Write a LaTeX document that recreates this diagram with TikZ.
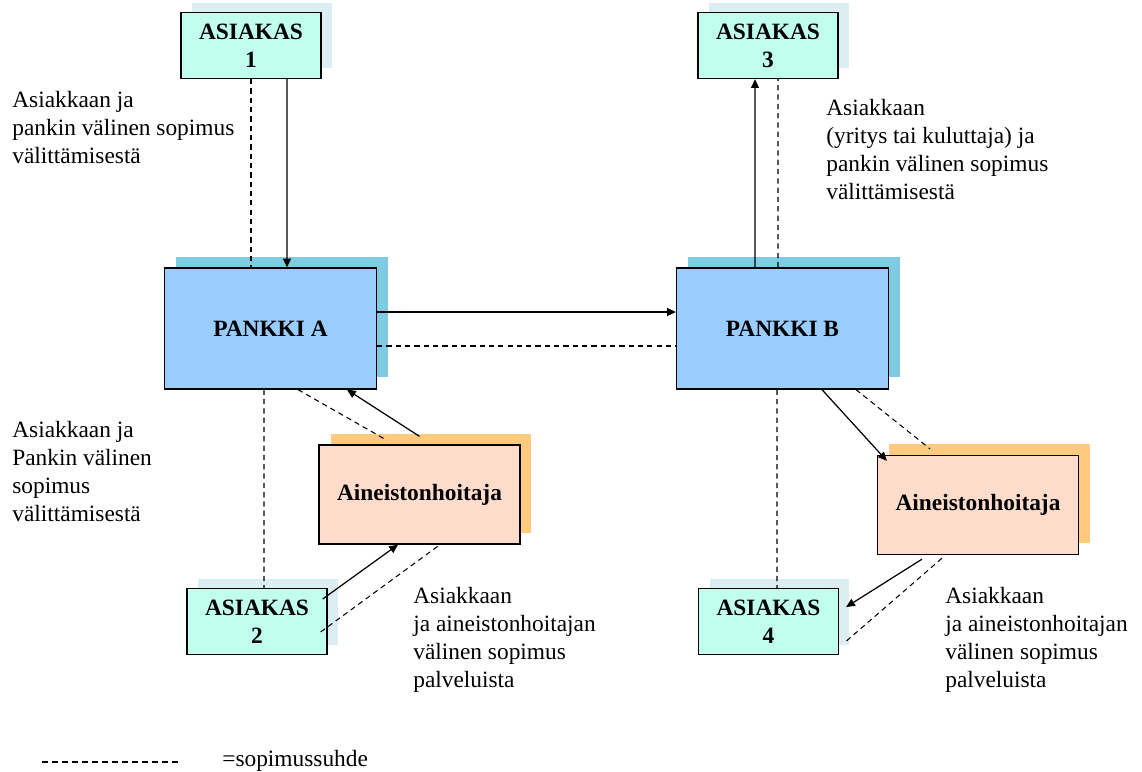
\documentclass[tikz,border=0pt]{standalone}
\usepackage{fontspec}
\setmainfont{Liberation Serif}
\usetikzlibrary{arrows.meta,shadows}

\definecolor{asiakasfill}{HTML}{C0FFEE}
\definecolor{asiakasshadow}{HTML}{DCEEF2}
\definecolor{pankkifill}{HTML}{99CCFF}
\definecolor{pankkishadow}{HTML}{7FCBE3}
\definecolor{hoitajafill}{HTML}{FDDCCB}
\definecolor{hoitajashadow}{HTML}{FFCA7D}

\newcommand\notefont{\fontsize{13.3pt}{15.9pt}\selectfont}
\newcommand\boxfont{\fontsize{13.3pt}{15.9pt}\selectfont\bfseries}

\tikzset{
  box/.style={draw=black, line width=0.75pt, align=center, font=\boxfont},
  asiakas/.style={box, fill=asiakasfill, minimum width=2.8cm, minimum height=1.32cm,
    general shadow={fill=asiakasshadow, draw=none, shadow xshift=0.22cm, shadow yshift=0.2cm}},
  pankki/.style={box, fill=pankkifill, minimum width=4.24cm, minimum height=2.42cm,
    general shadow={fill=pankkishadow, draw=none, shadow xshift=0.23cm, shadow yshift=0.23cm}},
  hoitaja/.style={box, fill=hoitajafill, minimum width=4.02cm, minimum height=1.98cm,
    general shadow={fill=hoitajashadow, draw=none, shadow xshift=0.23cm, shadow yshift=0.23cm}},
  note/.style={anchor=base west, align=left, inner sep=0pt, font=\notefont},
  flow/.style={-{Triangle[length=5pt,width=4.5pt]}, line width=0.7pt},
  deal/.style={dash pattern=on 3pt off 2.3pt, line width=0.6pt},
}

\begin{document}
\begin{tikzpicture}[x=0.02cm,y=-0.02cm]
  \useasboundingbox (0,0) rectangle (1142,771);
  % Draw boxes
  \node[asiakas] (a1) at (251,45.5)    {ASIAKAS\\1};
  \node[asiakas] (a3) at (768,45.5)    {ASIAKAS\\3};
  \node[pankki]  (pa) at (270.5,328.5) {PANKKI A};
  \node[pankki]  (pb) at (782.5,328.5) {PANKKI B};
  \node[hoitaja] (hl) at (419.5,494.5) {Aineistonhoitaja};
  \node[hoitaja] (hr) at (978,505)     {Aineistonhoitaja};
  \node[asiakas] (a2) at (257,621.5)   {ASIAKAS\\2};
  \node[asiakas] (a4) at (768.5,621.5) {ASIAKAS\\4};
  % Draw labels (base = last line)
  \node[note] (t1) at (12,163)  {Asiakkaan ja\\pankin välinen sopimus\\välittämisestä};
  \node[note] (t3) at (826,199) {Asiakkaan\\(yritys tai kuluttaja) ja\\pankin välinen sopimus\\välittämisestä};
  \node[note] (t2) at (12,521)  {Asiakkaan ja\\Pankin välinen\\sopimus\\välittämisestä};
  \node[note] (t4) at (413,687) {Asiakkaan\\ja aineistonhoitajan\\välinen sopimus\\palveluista};
  \node[note] (t5) at (945,687) {Asiakkaan\\ja aineistonhoitajan\\välinen sopimus\\palveluista};
  % Draw top connectors
  \draw[deal] (a1.south) -- (a1.south |- pa.north);
  \draw[flow] ([xshift=0.72cm]a1.south) -- ([xshift=0.33cm]pa.north);
  \draw[flow] ([xshift=-0.55cm]pb.north) -- ([xshift=-0.26cm]a3.south);
  \draw[deal] ([xshift=-0.09cm]pb.north) -- ([xshift=0.2cm]a3.south);
  % Draw bank connectors
  \draw[flow] ([yshift=0.33cm]pa.east) -- ([yshift=0.33cm]pb.west);
  \draw[deal] ([yshift=-0.35cm]pa.east) -- ([yshift=-0.35cm]pb.west);
  % Draw left bottom connectors
  \draw[deal] ([xshift=-0.13cm]pa.south) -- ([xshift=0.14cm]a2.north);
  \draw[flow] ([yshift=0.16cm]hl.north) -- ([xshift=1.53cm]pa.south);
  \draw[deal] ([xshift=0.55cm]pa.south) -- ([xshift=-0.65cm,yshift=0.08cm]hl.north);
  \draw[flow] ([xshift=-0.1cm,yshift=0.45cm]a2.east) -- ([xshift=-0.43cm]hl.south);
  \draw[deal] ([xshift=-0.14cm,yshift=-0.21cm]a2.east) -- ([xshift=0.41cm]hl.south);
  % Draw right bottom connectors
  \draw[deal] ([xshift=-0.11cm]pb.south) -- ([xshift=0.17cm]a4.north);
  \draw[flow] ([xshift=0.79cm]pb.south) -- ([xshift=0.2cm,yshift=-0.12cm]hr.north west);
  \draw[deal] ([xshift=1.47cm]pb.south) -- ([xshift=-0.96cm,yshift=0.12cm]hr.north);
  \draw[flow] ([xshift=-1.12cm,yshift=-0.08cm]hr.south) -- ([xshift=0.14cm,yshift=0.29cm]a4.east);
  \draw[deal] ([xshift=-0.72cm,yshift=-0.06cm]hr.south) -- ([xshift=0.1cm,yshift=-0.43cm]a4.east);
  % Draw legend
  \coordinate (k1) at (42,762);
  \coordinate (k2) at (182,762);
  \draw[dash pattern=on 3.4pt off 2.3pt, line width=0.6pt] (k1) -- (k2);
  \node[note] (key) at (222,766) {=sopimussuhde};
\end{tikzpicture}
\end{document}
